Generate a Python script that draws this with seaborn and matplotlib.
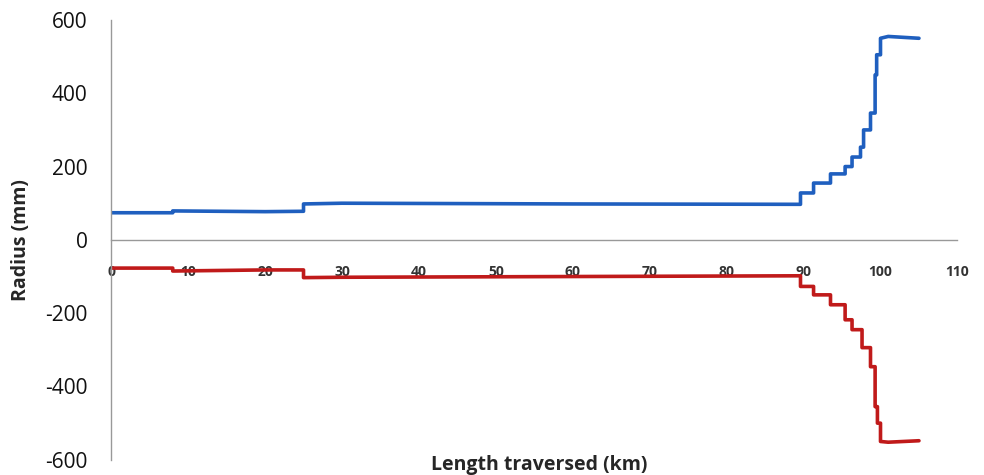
import matplotlib
matplotlib.use("Agg")
import matplotlib.pyplot as plt
import seaborn as sns
import pandas as pd

# upper profile (blue)
upper_km = [0, 8, 8, 20, 25, 25, 30, 60, 89.6, 89.6, 91.3, 91.3, 93.5, 93.5, 95.4, 95.4,
            96.3, 96.3, 97.4, 97.4, 97.8, 97.8, 98.7, 98.7, 99.3, 99.3, 99.5, 99.5,
            100, 100, 101, 105]
upper_mm = [74, 74, 79, 77, 78, 98, 100, 98, 97, 128, 128, 155, 155, 180, 180, 200,
            200, 226, 226, 253, 253, 300, 300, 346, 346, 450, 450, 505,
            505, 550, 555, 550]

# lower profile (red)
lower_km = [0, 8, 8, 20, 25, 25, 30, 60, 89.6, 89.6, 91.3, 91.3, 93.5, 93.5, 95.4, 95.4,
            96.3, 96.3, 97.6, 97.6, 98.7, 98.7, 99.3, 99.3, 99.6, 99.6,
            100, 100, 101, 105]
lower_mm = [-77, -77, -85, -82, -82, -103, -102, -100, -98, -127, -127, -150, -150, -177, -177, -218,
            -218, -245, -245, -294, -294, -346, -346, -455, -455, -500,
            -500, -550, -552, -548]

up = pd.DataFrame({"km": upper_km, "mm": upper_mm})
low = pd.DataFrame({"km": lower_km, "mm": lower_mm})

sns.set_theme(style="white")
plt.rcParams["font.family"] = ["Open Sans", "DejaVu Sans"]
plt.rcParams["axes.unicode_minus"] = False

fig = plt.figure(figsize=(9.84, 4.75), dpi=100)
ax = fig.add_axes([0.113, 0.032, 0.86, 0.926])

sns.lineplot(data=up, x="km", y="mm", sort=False, estimator=None,
             color="#1F5FBF", linewidth=2.6, ax=ax, zorder=1)
sns.lineplot(data=low, x="km", y="mm", sort=False, estimator=None,
             color="#C01A1A", linewidth=2.6, ax=ax, zorder=1)

ax.set_xlim(0, 110)
ax.set_ylim(-600, 600)
ax.set_xticks(range(0, 111, 10))
ax.set_yticks(range(-600, 601, 200))

ax.spines["bottom"].set_position(("data", 0))
ax.spines["top"].set_visible(False)
ax.spines["right"].set_visible(False)
for s in ("left", "bottom"):
    ax.spines[s].set_color("#999999")
    ax.spines[s].set_linewidth(1.0)

ax.tick_params(axis="x", direction="out", length=5, color="#999999", pad=13,
               labelsize=10, labelcolor="#333333")
ax.tick_params(axis="y", direction="out", length=5, color="#999999", pad=12,
               labelsize=15, labelcolor="#111111")
for lab in ax.get_xticklabels():
    lab.set_fontweight("bold")

ax.set_xlabel("")
ax.set_ylabel("Radius (mm)", fontsize=14, fontweight="bold", labelpad=10)
fig.text(0.548, 0.022, "Length traversed (km)", ha="center", va="center",
         fontsize=14, fontweight="bold")

plt.savefig("out.png", dpi=100)
plt.close()
